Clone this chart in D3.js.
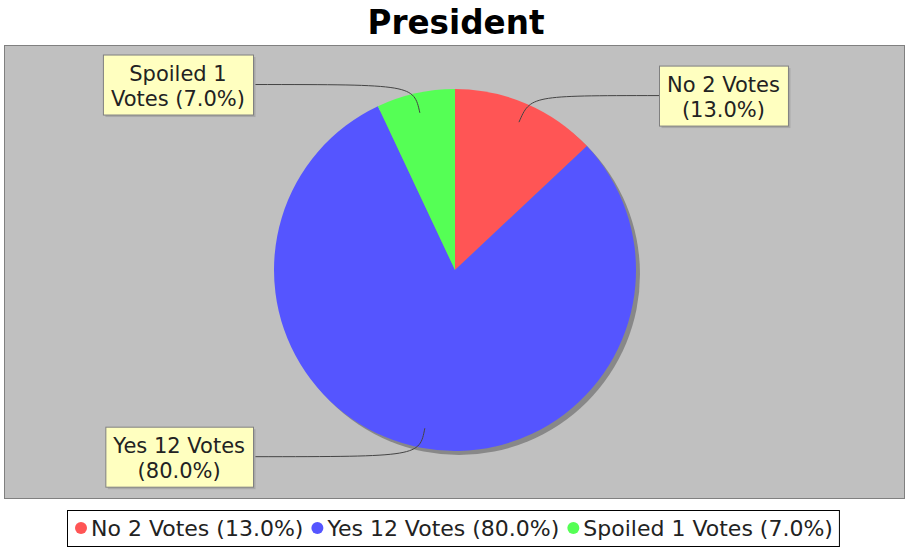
<!DOCTYPE html>
<html>
<head>
<meta charset="utf-8">
<script src="https://cdn.jsdelivr.net/npm/d3@7"></script>
<style>
  html, body { margin: 0; padding: 0; background: #fff; }
  svg { display: block; }
</style>
</head>
<body>
<div id="chart"></div>
<script>
// data
const title = "President";
const categories = ["No", "Yes", "Spoiled"];
const votes = [2, 12, 1];
const percents = [13.0, 80.0, 7.0];
const colors = ["#ff5555", "#5555ff", "#55ff55"];

const labelText = categories.map((c, i) => c + " " + votes[i] + " Votes (" + percents[i].toFixed(1) + "%)");

const width = 906, height = 548;
const plot = { x: 4, y: 45, w: 900, h: 453 };
const cx = 455, cy = 270, r = 181;

const svg = d3.select("#chart").append("svg")
  .attr("width", width)
  .attr("height", height)
  .style("font-family", "'DejaVu Sans', sans-serif");

// title
svg.append("text")
  .attr("x", 456).attr("y", 34)
  .attr("text-anchor", "middle")
  .style("font-weight", "bold")
  .style("font-size", "34px")
  .attr("textLength", 177)
  .attr("lengthAdjust", "spacingAndGlyphs")
  .text(title);

// plot background
svg.append("rect")
  .attr("x", plot.x + 0.5).attr("y", plot.y + 0.5)
  .attr("width", plot.w).attr("height", plot.h)
  .attr("fill", "#c0c0c0")
  .attr("stroke", "#808080");

// pie, clockwise from 12 o'clock
const pie = d3.pie().sort(null).value(d => d);
const arcs = pie(percents);
const arc = d3.arc().innerRadius(0).outerRadius(r);

const g = svg.append("g").attr("transform", `translate(${cx},${cy})`);

// shadow
g.append("circle")
  .attr("cx", 4).attr("cy", 4).attr("r", r)
  .attr("fill", "#888888");

g.selectAll("path.slice")
  .data(arcs)
  .enter()
  .append("path")
  .attr("class", "slice")
  .attr("d", arc)
  .attr("fill", (d, i) => colors[i]);

// labels with curved links
const fontSize = 21, lineH = 25, padX = 5;
const labelLines = categories.map((c, i) => {
  if (c === "Spoiled") return [c + " " + votes[i], "Votes (" + percents[i].toFixed(1) + "%)"];
  return [c + " " + votes[i] + " Votes", "(" + percents[i].toFixed(1) + "%)"];
});

const measure = svg.append("text").style("font-size", fontSize + "px");
function textW(s) { measure.text(s); return measure.node().getComputedTextLength(); }

arcs.forEach((d, i) => {
  const mid = (d.startAngle + d.endAngle) / 2;
  const sx = Math.sin(mid), sy = -Math.cos(mid);
  const link = [cx + sx * r * 0.89, cy + sy * r * 0.89];
  const elbow = [cx + sx * r * 1.05, cy + sy * r * 1.05];
  const right = sx > 0;
  const lines = labelLines[i];
  const bw = d3.max(lines, textW) + padX * 2 + 6;
  const bh = 60;
  const bx = right ? cx + r + 23 : cx - r - 21 - bw;
  const by = elbow[1] - bh / 2;
  const anchor = [right ? bx : bx + bw, elbow[1]];

  const p = d3.path();
  p.moveTo(anchor[0], anchor[1]);
  p.bezierCurveTo(elbow[0], elbow[1], elbow[0], elbow[1], link[0], link[1]);
  svg.append("path")
    .attr("d", p.toString())
    .attr("fill", "none")
    .attr("stroke", "#444")
    .attr("stroke-width", 1);

  svg.append("rect")
    .attr("x", bx + 2.5).attr("y", by + 2.5)
    .attr("width", bw).attr("height", bh)
    .attr("fill", "#a8a8a8");
  svg.append("rect")
    .attr("x", bx + 0.5).attr("y", by + 0.5)
    .attr("width", bw).attr("height", bh)
    .attr("fill", "#ffffc0")
    .attr("stroke", "#808080");
  lines.forEach((s, k) => {
    svg.append("text")
      .attr("x", bx + bw / 2)
      .attr("y", by + 26 + k * lineH)
      .attr("text-anchor", "middle")
      .style("font-size", fontSize + "px")
      .attr("fill", "#222")
      .text(s);
  });
});

// legend
const legendFont = 22;
measure.style("font-size", legendFont + "px");
let lx = 8;
const items = labelText.map((t, i) => {
  const w = textW(t);
  const item = { x: lx, w: w, i: i, t: t };
  lx += 16 + w + 8;
  return item;
});
measure.remove();
const legendW = lx - 8 + 6;
const legendX = Math.round(452.5 - legendW / 2);
svg.append("rect")
  .attr("x", legendX + 0.5).attr("y", 510.5)
  .attr("width", legendW).attr("height", 36)
  .attr("fill", "#fff")
  .attr("stroke", "#000");
const legendG = svg.append("g");
items.forEach(it => {
  legendG.append("circle")
    .attr("cx", legendX + it.x + 6).attr("cy", 528)
    .attr("r", 6)
    .attr("fill", colors[it.i]);
  legendG.append("text")
    .attr("x", legendX + it.x + 16).attr("y", 536)
    .style("font-size", legendFont + "px")
    .attr("fill", "#222")
    .text(it.t);
});
</script>
</body>
</html>
